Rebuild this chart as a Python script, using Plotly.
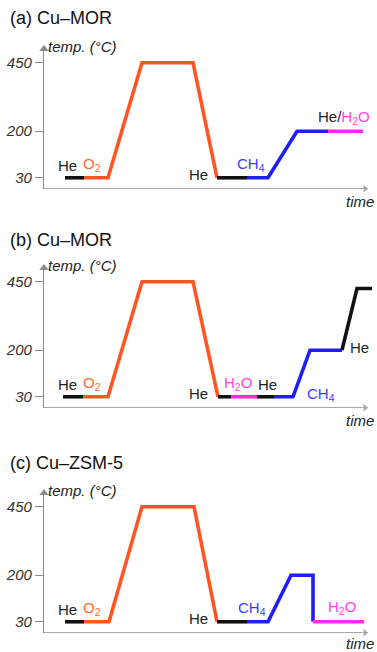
import plotly.graph_objects as go

# ---------------- data (time in arbitrary units, temp in °C) ----------------
a_time = [21, 40, 64, 98, 149, 173, 203, 224, 253, 284, 319]
a_temp = [30, 30, 30, 450, 450, 30, 30, 30, 200, 200, 200]
a_gas = ['He', 'O2', 'O2', 'O2', 'O2', 'He', 'CH4', 'CH4', 'CH4', 'H2O']

b_time = [19, 39, 64, 98, 149, 174, 187, 213, 230, 249, 266, 298, 313, 328]
b_temp = [30, 30, 30, 450, 450, 30, 30, 30, 30, 30, 200, 200, 425, 425]
b_gas = ['He', 'O2', 'O2', 'O2', 'O2', 'He', 'H2O', 'He', 'CH4', 'CH4', 'CH4', 'He', 'He']

c_time = [21, 40, 65, 98, 150, 173, 203, 224, 247, 269, 269, 320]
c_temp = [30, 30, 30, 450, 450, 30, 30, 30, 200, 200, 30, 30]
c_gas = ['He', 'O2', 'O2', 'O2', 'O2', 'He', 'CH4', 'CH4', 'CH4', 'CH4', 'H2O']

titles = ['(a) Cu\u2013MOR', '(b) Cu\u2013MOR', '(c) Cu\u2013ZSM-5']
tick_vals = [30, 200, 450]
tick_text = ['30', '200', '450']

# ---------------- styles ----------------
line_col = {'He': '#111111', 'O2': '#FF5522', 'CH4': '#1E1EF5', 'H2O': '#FF2BE6'}
text_col = {'He': '#222222', 'O2': '#FF6A33', 'CH4': '#3C3CFF', 'H2O': '#FF44E6'}
gas_html = {'He': 'He', 'O2': 'O<sub>2</sub>', 'CH4': 'CH<sub>4</sub>', 'H2O': 'H<sub>2</sub>O'}
FONT = 'Liberation Sans, Arial, sans-serif'
AX_COL = '#8a8a8a'
W, H = 377, 652
OFF = 0

# panel pixel geometry in window coords: (top, bottom) of plot area
panels_px = [(49, 189), (268, 408), (493, 633)]
title_px = [18, 240, 463]
time_shift = [-2, -2, 0]
AXIS_X = 44
YR = [-11, 500]
Y_AX = -10
XR = [0, W - (AXIS_X - OFF)]
X_TIP = 321

fig = go.Figure()

datasets = [(a_time, a_temp, a_gas), (b_time, b_temp, b_gas), (c_time, c_temp, c_gas)]
annotations = []
layout_axes = {}

for k, (tt, TT, gg) in enumerate(datasets):
    idx = '' if k == 0 else str(k + 1)
    xa, ya = 'x' + idx, 'y' + idx
    # split path into runs of same gas
    i = 0
    while i < len(gg):
        j = i
        while j + 1 < len(gg) and gg[j + 1] == gg[i]:
            j += 1
        fig.add_trace(go.Scatter(
            x=tt[i:j + 2], y=TT[i:j + 2], mode='lines',
            line=dict(color=line_col[gg[i]], width=3.6),
            xaxis=xa, yaxis=ya, showlegend=False, hoverinfo='skip'))
        i = j + 1

    # x axis (arrow) as a line trace with a triangle head
    fig.add_trace(go.Scatter(
        x=[XR[0], X_TIP], y=[Y_AX, Y_AX], mode='lines+markers',
        line=dict(color=AX_COL, width=1.2),
        marker=dict(symbol='triangle-right', size=[0, 8], color=AX_COL),
        xaxis=xa, yaxis=ya, showlegend=False, hoverinfo='skip',
        cliponaxis=False))
    # y axis arrow head
    fig.add_trace(go.Scatter(
        x=[XR[0]], y=[YR[1]], mode='markers',
        marker=dict(symbol='triangle-up', size=8, color=AX_COL),
        xaxis=xa, yaxis=ya, showlegend=False, hoverinfo='skip',
        cliponaxis=False))

    top, bot = panels_px[k]
    layout_axes['xaxis' + idx] = dict(
        domain=[(AXIS_X - OFF) / W, 1], range=XR, visible=False, fixedrange=True,
        anchor=ya)
    layout_axes['yaxis' + idx] = dict(
        domain=[1 - (bot - OFF) / H, 1 - (top - OFF) / H], range=YR, anchor=xa,
        showgrid=False, zeroline=False, showline=True, linecolor=AX_COL,
        linewidth=1.2,
        tickvals=tick_vals, ticktext=tick_text, ticks='outside',
        ticklen=8, tickcolor=AX_COL, tickwidth=1,
        tickfont=dict(family=FONT, size=15, color='#333333', style='italic'),
        fixedrange=True)

    # axis titles
    annotations.append(dict(x=0, y=1, xref=xa + ' domain', yref=ya + ' domain',
                            text='temp. (\u00b0C)', showarrow=False,
                            xanchor='left', yanchor='middle', xshift=2, yshift=3,
                            font=dict(family=FONT, size=15, color='#222222',
                                      style='italic')))
    annotations.append(dict(x=1, y=0, xref='paper', yref=ya + ' domain',
                            text='time', showarrow=False,
                            xanchor='right', yanchor='top', yshift=time_shift[k],
                            xshift=-1,
                            font=dict(family=FONT, size=15, color='#222222',
                                      style='italic')))
    # panel title
    annotations.append(dict(x=8 / W, y=1 - (title_px[k] - OFF) / H, xref='paper', yref='paper',
                            text=titles[k], showarrow=False, xanchor='left',
                            yanchor='middle',
                            font=dict(family=FONT, size=18, color='#111111')))

# gas labels: (panel, gas, x, y, xanchor, yanchor, yshift)
labels = [
    (0, 'He', 23, 30, 'center', 'bottom', 2),
    (0, 'O2', 48, 30, 'center', 'bottom', 2),
    (0, 'He', 166, 30, 'right', 'middle', 3),
    (0, 'CH4', 207, 30, 'center', 'bottom', 2),
    (1, 'He', 23, 30, 'center', 'bottom', 2),
    (1, 'O2', 48, 30, 'center', 'bottom', 2),
    (1, 'He', 166, 30, 'right', 'middle', 3),
    (1, 'H2O', 194, 30, 'center', 'bottom', 2),
    (1, 'He', 223, 30, 'center', 'bottom', 2),
    (1, 'CH4', 261, 30, 'left', 'middle', 2),
    (1, 'He', 304, 200, 'left', 'middle', 3),
    (2, 'He', 23, 30, 'center', 'bottom', 2),
    (2, 'O2', 48, 30, 'center', 'bottom', 2),
    (2, 'He', 166, 30, 'right', 'middle', 3),
    (2, 'CH4', 208, 30, 'center', 'bottom', 2),
    (2, 'H2O', 298, 30, 'center', 'bottom', 3),
]
for (p, g, x, y, xan, yan, ys) in labels:
    idx = '' if p == 0 else str(p + 1)
    annotations.append(dict(x=x, y=y, xref='x' + idx, yref='y' + idx,
                            text=gas_html[g],
                            showarrow=False, xanchor=xan, yanchor=yan, yshift=ys,
                            font=dict(family=FONT, size=15, color=text_col[g])))
# combined He/H2O label in panel (a)
annotations.append(dict(x=300, y=200, xref='x', yref='y',
                        text='He/<span style="color:%s">H<sub>2</sub>O</span>'
                             % text_col['H2O'],
                        showarrow=False, xanchor='center', yanchor='bottom', yshift=2,
                        font=dict(family=FONT, size=15, color=text_col['He'])))

fig.update_layout(width=W, height=H, margin=dict(l=0, r=0, t=0, b=0),
                  paper_bgcolor='white', plot_bgcolor='white',
                  annotations=annotations, **layout_axes)

fig.write_html('out.html', config={'displayModeBar': False},
               post_script="document.body.style.margin='0';"
                           "document.body.style.overflow='hidden';")
